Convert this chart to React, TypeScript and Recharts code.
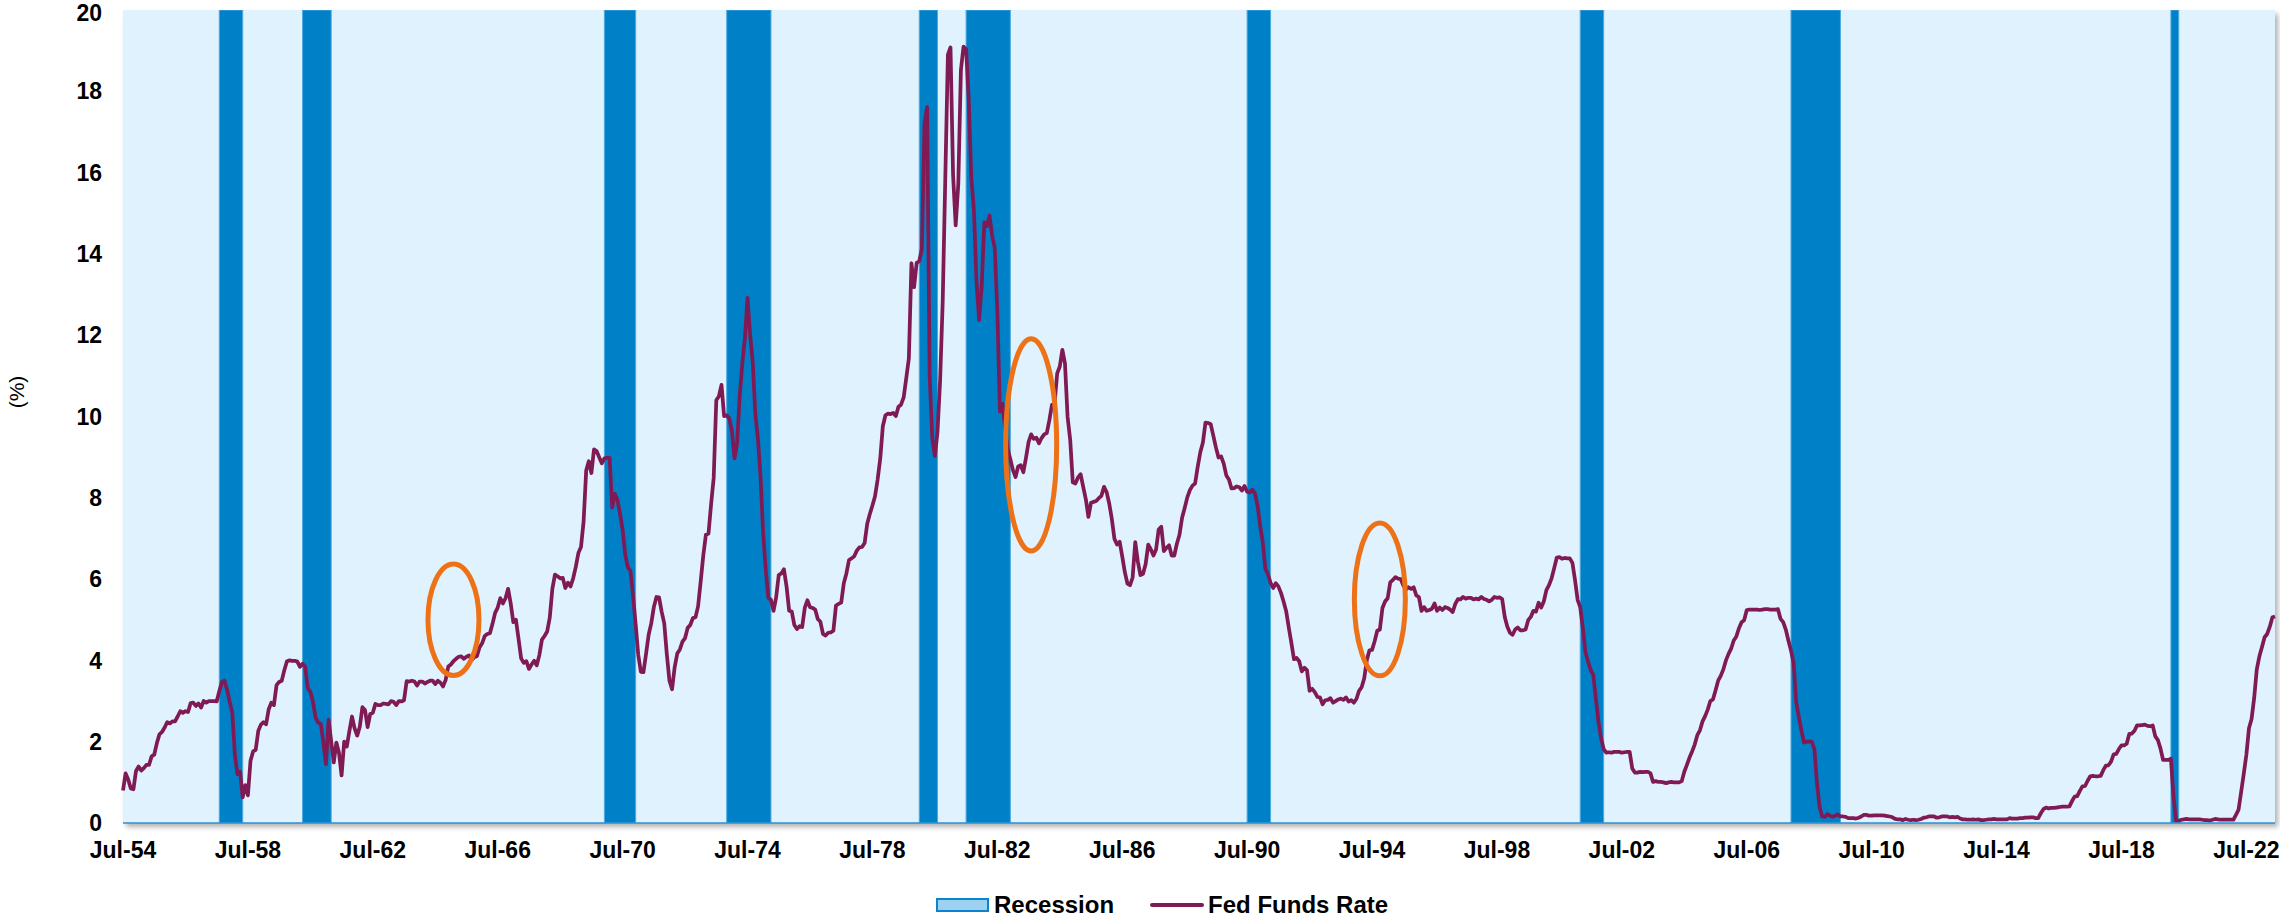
import { ComposedChart, Line, XAxis, YAxis, CartesianGrid, ReferenceArea, ReferenceDot } from "recharts"

// monthly effective fed funds rate, Jul-1954 .. Jun-2023
const rates1950s = [
  0.80, 1.22, 1.07, 0.85, 0.83, 1.28,
  1.39, 1.29, 1.35, 1.43, 1.43, 1.64, 1.68, 1.96, 2.18, 2.24, 2.35, 2.48,
  2.45, 2.50, 2.50, 2.62, 2.75, 2.71, 2.75, 2.73, 2.95, 2.96, 2.88, 2.94,
  2.84, 3.00, 2.96, 3.00, 3.00, 3.00, 2.99, 3.24, 3.47, 3.50, 3.28, 2.98,
  2.72, 1.67, 1.20, 1.26, 0.63, 0.93, 0.68, 1.53, 1.76, 1.80, 2.27, 2.42,
  2.48, 2.43, 2.80, 2.96, 2.90, 3.39, 3.47, 3.50, 3.76, 3.98, 4.00, 3.99,
]
const rates1960s = [
  3.99, 3.97, 3.84, 3.92, 3.85, 3.32, 3.23, 2.98, 2.60, 2.47, 2.44, 1.98,
  1.45, 2.54, 2.02, 1.49, 1.98, 1.73, 1.17, 2.00, 1.88, 2.26, 2.62, 2.33,
  2.15, 2.37, 2.85, 2.78, 2.36, 2.68, 2.71, 2.93, 2.90, 2.90, 2.94, 2.93,
  2.92, 3.00, 2.98, 2.90, 3.00, 2.99, 3.02, 3.49, 3.48, 3.50, 3.48, 3.38,
  3.48, 3.48, 3.43, 3.47, 3.50, 3.50, 3.42, 3.50, 3.45, 3.36, 3.52, 3.85,
  3.90, 3.98, 4.04, 4.09, 4.10, 4.04, 4.09, 4.12, 4.01, 4.08, 4.10, 4.32,
  4.42, 4.60, 4.65, 4.67, 4.90, 5.17, 5.30, 5.53, 5.40, 5.53, 5.76, 5.40,
  4.94, 5.00, 4.53, 4.05, 3.94, 3.98, 3.79, 3.90, 3.99, 3.88, 4.13, 4.51,
  4.60, 4.71, 5.05, 5.76, 6.11, 6.07, 6.02, 6.03, 5.78, 5.91, 5.82, 6.02,
  6.30, 6.64, 6.79, 7.41, 8.67, 8.90, 8.61, 9.19, 9.15, 9.00, 8.85, 8.97,
]
const rates1970s = [
  8.98, 8.98, 7.76, 8.10, 7.95, 7.61, 7.21, 6.61, 6.29, 6.20, 5.60, 4.90,
  4.14, 3.72, 3.71, 4.16, 4.63, 4.91, 5.31, 5.56, 5.55, 5.20, 4.91, 4.14,
  3.50, 3.29, 3.83, 4.17, 4.27, 4.46, 4.55, 4.80, 4.87, 5.04, 5.06, 5.33,
  5.94, 6.58, 7.09, 7.12, 7.84, 8.49, 10.40, 10.50, 10.78, 10.01, 10.03, 9.95,
  9.65, 8.97, 9.35, 10.51, 11.31, 11.93, 12.92, 12.01, 11.34, 10.06, 9.45, 8.53,
  7.13, 6.24, 5.54, 5.49, 5.22, 5.55, 6.10, 6.14, 6.24, 5.82, 5.22, 5.20,
  4.87, 4.77, 4.84, 4.82, 5.29, 5.48, 5.31, 5.29, 5.25, 5.02, 4.95, 4.65,
  4.61, 4.68, 4.69, 4.73, 5.35, 5.39, 5.42, 5.90, 6.14, 6.47, 6.51, 6.56,
  6.70, 6.78, 6.79, 6.89, 7.36, 7.60, 7.81, 8.04, 8.45, 8.96, 9.76, 10.03,
  10.07, 10.06, 10.09, 10.01, 10.24, 10.29, 10.47, 10.94, 11.43, 13.77, 13.18, 13.78,
]
const rates1980s = [
  13.82, 14.13, 17.19, 17.61, 10.98, 9.47, 9.03, 9.61, 10.87, 12.81, 15.85, 18.90,
  19.08, 15.93, 14.70, 15.72, 18.52, 19.10, 19.04, 17.82, 15.87, 15.08, 13.31, 12.37,
  13.22, 14.78, 14.68, 14.94, 14.45, 14.15, 12.59, 10.12, 10.31, 9.71, 9.20, 8.95,
  8.68, 8.51, 8.77, 8.80, 8.63, 8.98, 9.37, 9.56, 9.45, 9.48, 9.34, 9.47,
  9.56, 9.59, 9.91, 10.29, 10.32, 11.06, 11.23, 11.64, 11.30, 9.99, 9.43, 8.38,
  8.35, 8.50, 8.58, 8.27, 7.97, 7.53, 7.88, 7.90, 7.92, 7.99, 8.05, 8.27,
  8.14, 7.86, 7.48, 6.99, 6.85, 6.92, 6.56, 6.17, 5.89, 5.85, 6.04, 6.91,
  6.43, 6.10, 6.13, 6.37, 6.85, 6.73, 6.58, 6.73, 7.22, 7.29, 6.69, 6.77,
  6.83, 6.58, 6.58, 6.87, 7.09, 7.51, 7.75, 8.01, 8.19, 8.30, 8.35, 8.76,
  9.12, 9.36, 9.85, 9.84, 9.81, 9.53, 9.24, 8.99, 9.02, 8.84, 8.55, 8.45,
]
const rates1990s = [
  8.23, 8.24, 8.28, 8.26, 8.18, 8.29, 8.15, 8.13, 8.20, 8.11, 7.81, 7.31,
  6.91, 6.25, 6.12, 5.91, 5.78, 5.90, 5.82, 5.66, 5.45, 5.21, 4.81, 4.43,
  4.03, 4.06, 3.98, 3.73, 3.82, 3.76, 3.25, 3.30, 3.22, 3.10, 3.09, 2.92,
  3.02, 3.03, 3.07, 2.96, 3.00, 3.04, 3.06, 3.03, 3.09, 2.99, 3.02, 2.96,
  3.05, 3.25, 3.34, 3.56, 4.01, 4.25, 4.26, 4.47, 4.73, 4.76, 5.29, 5.45,
  5.53, 5.92, 5.98, 6.05, 6.01, 6.00, 5.85, 5.74, 5.80, 5.76, 5.80, 5.60,
  5.56, 5.22, 5.31, 5.22, 5.24, 5.27, 5.40, 5.22, 5.30, 5.24, 5.31, 5.29,
  5.25, 5.19, 5.39, 5.51, 5.50, 5.56, 5.52, 5.54, 5.54, 5.50, 5.52, 5.50,
  5.56, 5.51, 5.49, 5.45, 5.49, 5.56, 5.54, 5.55, 5.51, 5.07, 4.83, 4.68,
  4.63, 4.76, 4.81, 4.74, 4.74, 4.76, 4.99, 5.07, 5.22, 5.20, 5.42, 5.30,
]
const rates2000s = [
  5.45, 5.73, 5.85, 6.02, 6.27, 6.53, 6.54, 6.50, 6.52, 6.51, 6.51, 6.40,
  5.98, 5.49, 5.31, 4.80, 4.21, 3.97, 3.77, 3.65, 3.07, 2.49, 2.09, 1.82,
  1.73, 1.74, 1.73, 1.75, 1.75, 1.75, 1.73, 1.74, 1.75, 1.75, 1.34, 1.24,
  1.24, 1.26, 1.25, 1.26, 1.26, 1.22, 1.01, 1.03, 1.01, 1.01, 1.00, 0.98,
  1.00, 1.01, 1.00, 1.00, 1.00, 1.03, 1.26, 1.43, 1.61, 1.76, 1.93, 2.16,
  2.28, 2.50, 2.63, 2.79, 3.00, 3.04, 3.26, 3.50, 3.62, 3.78, 4.00, 4.16,
  4.29, 4.49, 4.59, 4.79, 4.94, 4.99, 5.24, 5.25, 5.25, 5.25, 5.25, 5.24,
  5.25, 5.26, 5.26, 5.25, 5.25, 5.25, 5.26, 5.02, 4.94, 4.76, 4.49, 4.24,
  3.94, 2.98, 2.61, 2.28, 1.98, 2.00, 2.01, 2.00, 1.81, 0.97, 0.39, 0.16,
  0.15, 0.22, 0.18, 0.15, 0.18, 0.21, 0.16, 0.16, 0.15, 0.12, 0.12, 0.12,
]
const rates2010s = [
  0.11, 0.13, 0.16, 0.20, 0.20, 0.18, 0.18, 0.19, 0.19, 0.19, 0.19, 0.18,
  0.17, 0.16, 0.14, 0.10, 0.09, 0.09, 0.07, 0.10, 0.08, 0.07, 0.08, 0.07,
  0.08, 0.10, 0.13, 0.14, 0.16, 0.16, 0.16, 0.13, 0.14, 0.16, 0.16, 0.16,
  0.14, 0.15, 0.14, 0.15, 0.11, 0.09, 0.09, 0.08, 0.08, 0.09, 0.08, 0.09,
  0.07, 0.07, 0.08, 0.09, 0.09, 0.10, 0.09, 0.09, 0.09, 0.09, 0.09, 0.12,
  0.11, 0.11, 0.11, 0.12, 0.12, 0.13, 0.13, 0.14, 0.14, 0.12, 0.12, 0.24,
  0.34, 0.38, 0.36, 0.37, 0.37, 0.38, 0.39, 0.40, 0.40, 0.40, 0.41, 0.54,
  0.65, 0.66, 0.79, 0.90, 0.91, 1.04, 1.15, 1.16, 1.15, 1.15, 1.16, 1.30,
  1.41, 1.42, 1.51, 1.69, 1.70, 1.82, 1.91, 1.91, 1.95, 2.19, 2.20, 2.27,
  2.40, 2.40, 2.41, 2.42, 2.39, 2.38, 2.40, 2.13, 2.04, 1.83, 1.55, 1.55,
]
const rates2020s = [
  1.55, 1.58, 0.65, 0.05, 0.05, 0.08, 0.09, 0.10, 0.09, 0.09, 0.09, 0.09,
  0.09, 0.08, 0.07, 0.07, 0.06, 0.08, 0.10, 0.09, 0.08, 0.08, 0.08, 0.08,
  0.08, 0.08, 0.20, 0.33, 0.77, 1.21, 1.68, 2.33, 2.56, 3.08, 3.78, 4.10,
  4.33, 4.57, 4.65, 4.83, 5.06, 5.08,
]

// NBER peak / trough months
const recessions = [
  { peak: "Aug-57", trough: "Apr-58" },
  { peak: "Apr-60", trough: "Feb-61" },
  { peak: "Dec-69", trough: "Nov-70" },
  { peak: "Nov-73", trough: "Mar-75" },
  { peak: "Jan-80", trough: "Jul-80" },
  { peak: "Jul-81", trough: "Nov-82" },
  { peak: "Jul-90", trough: "Mar-91" },
  { peak: "Mar-01", trough: "Nov-01" },
  { peak: "Dec-07", trough: "Jun-09" },
  { peak: "Feb-20", trough: "Apr-20" },
]

// circled episodes: centre month, centre rate, half height in % points
const highlights = [
  { month: "Feb-65", rate: 5.0, half: 1.37 },
  { month: "Aug-83", rate: 9.3, half: 2.61 },
  { month: "Oct-94", rate: 5.5, half: 1.88 },
]

const yTicks = [0, 2, 4, 6, 8, 10, 12, 14, 16, 18, 20]

const MONTHS = ["Jan", "Feb", "Mar", "Apr", "May", "Jun", "Jul", "Aug", "Sep", "Oct", "Nov", "Dec"]
const FIRST_YEAR = 1954
const FIRST_MONTH = 6

const monthLabel = (i: number) => {
  const m = FIRST_MONTH + i
  const yr = (FIRST_YEAR + Math.floor(m / 12)) % 100
  return `${MONTHS[m % 12]}-${String(yr).padStart(2, "0")}`
}

const rates = [...rates1950s, ...rates1960s, ...rates1970s, ...rates1980s, ...rates1990s, ...rates2000s, ...rates2010s, ...rates2020s]
const data = rates.map((rate, i) => ({ month: monthLabel(i), rate }))
const labels = data.map(d => d.month)
const afterMonth = (label: string) => labels[Math.min(labels.indexOf(label) + 1, labels.length - 1)]

const W = 2280
const H = 918
const margin = { top: 10, right: 5, bottom: 0, left: 0 }
const Y_AXIS_W = 123
const X_AXIS_H = 95
const plotLeft = margin.left + Y_AXIS_W
const plotTop = margin.top
const plotW = W - plotLeft - margin.right
const plotH = H - margin.top - margin.bottom - X_AXIS_H
const pxPerPoint = plotH / 20

const FONT = "'Liberation Sans', Arial, sans-serif"
const LINE_COLOR = "#801a55"
const REC_COLOR = "#0080c6"
const BG = "#e0f2fd"
const ORANGE = "#ed7217"

const tickStyle = { fill: "#000", fontSize: 23, fontWeight: 700, fontFamily: FONT }

export default function App() {
  return (
    <div style={{ position: "absolute", left: 0, top: 0, width: W, height: H, fontFamily: FONT, background: "#fff" }}>
      <div
        style={{
          position: "absolute", left: plotLeft, top: plotTop, width: plotW, height: plotH,
          boxShadow: "3px 4px 5px rgba(0,0,0,0.3)",
        }}
      />
      <div style={{ position: "absolute", left: 0, top: 0 }}>
        <ComposedChart width={W} height={H} data={data} margin={margin}>
          <CartesianGrid horizontal={false} vertical={false} fill={BG} stroke="none" />
          {recessions.map(r => (
            <ReferenceArea
              key={r.peak}
              x1={r.peak}
              x2={afterMonth(r.trough)}
              y1={0}
              y2={20}
              fill={REC_COLOR}
              fillOpacity={1}
              stroke="#4ea9df"
              strokeWidth={1}
              ifOverflow="hidden"
            />
          ))}
          <XAxis
            dataKey="month"
            interval={47}
            height={X_AXIS_H}
            tick={tickStyle}
            tickLine={false}
            tickSize={0}
            tickMargin={19}
            axisLine={{ stroke: "#2a90d6", strokeWidth: 1.5 }}
          />
          <YAxis
            type="number"
            domain={[0, 20]}
            ticks={yTicks}
            width={Y_AXIS_W}
            tick={tickStyle}
            tickLine={false}
            tickSize={0}
            tickMargin={21}
            axisLine={false}
            label={{
              content: () => (
                <text x={16} y={392} transform="rotate(-90 16 392)" textAnchor="middle" dominantBaseline="central"
                  fontSize={21} fontFamily={FONT} fill="#000">(%)</text>
              ),
            }}
          />
          <Line
            dataKey="rate"
            type="linear"
            stroke={LINE_COLOR}
            strokeWidth={3.75}
            strokeLinejoin="round"
            dot={false}
            activeDot={false}
            isAnimationActive={false}
          />
          {highlights.map(h => (
            <ReferenceDot
              key={h.month}
              x={h.month}
              y={h.rate}
              ifOverflow="visible"
              shape={(p: any) => (
                <ellipse cx={p.cx} cy={p.cy} rx={25.5} ry={h.half * pxPerPoint} fill="none" stroke={ORANGE} strokeWidth={5} />
              )}
            />
          ))}
        </ComposedChart>
      </div>
      <div
        style={{
          position: "absolute", left: 936, top: 892, height: 26, display: "flex", alignItems: "center",
          fontSize: 24, fontWeight: 700, color: "#000", lineHeight: "26px",
        }}
      >
        <span style={{ display: "inline-block", width: 49, height: 10, background: "#9dd1f0", border: "2px solid #0a84cf" }} />
        <span style={{ marginLeft: 5 }}>Recession</span>
        <span style={{ display: "inline-block", width: 54, height: 4, borderRadius: 2, background: LINE_COLOR, marginLeft: 36 }} />
        <span style={{ marginLeft: 4 }}>Fed Funds Rate</span>
      </div>
    </div>
  )
}
